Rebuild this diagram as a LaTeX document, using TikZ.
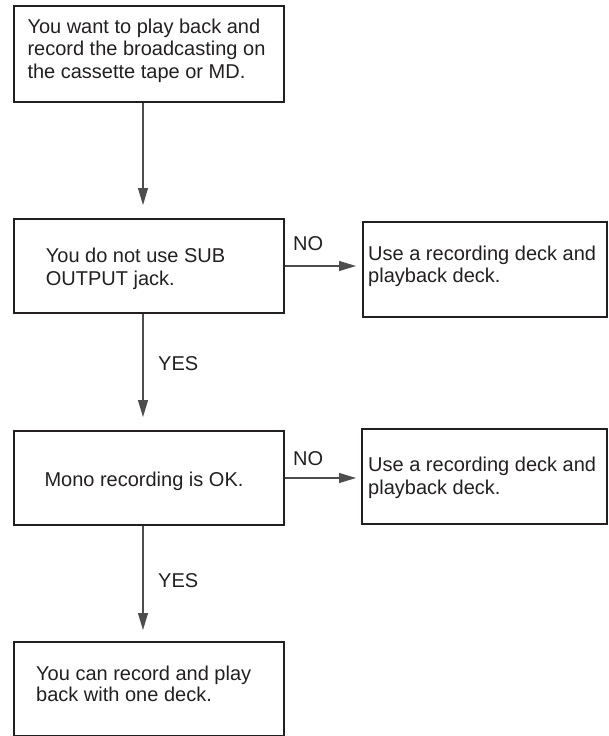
\documentclass[tikz,border=0pt]{standalone}
\usepackage{fontspec}
\setmainfont{Liberation Sans}
\usetikzlibrary{arrows.meta}
\definecolor{ink}{HTML}{231F20}
\definecolor{wire}{HTML}{4D4D4D}
\newcommand{\fs}{\fontsize{20pt}{22.6pt}\selectfont}
\newcommand{\tb}[2][260pt]{\parbox[t]{#1}{\raggedright\fs #2}}
\begin{document}
\begin{tikzpicture}[x=1pt,y=-1pt,
  box/.style={draw=ink,line width=2pt,rectangle,inner sep=0pt,anchor=north west},
  txt/.style={anchor=base west,inner sep=0pt,text=ink},
  lbl/.style={anchor=base west,inner sep=0pt,text=ink,font=\fs},
  arr/.style={draw=wire,line width=1.1pt,-{Triangle[length=17pt,width=10pt]}}]
\useasboundingbox (0,0) rectangle (608,736);
% boxes
\node[box,minimum width=270.3pt,minimum height=95.5pt] (b1) at (12.7,5) {};
\node[box,minimum width=270.3pt,minimum height=94pt] (b2) at (12.7,218) {};
\node[box,minimum width=243.5pt,minimum height=94.5pt] (r2) at (362,221) {};
\node[box,minimum width=270.3pt,minimum height=94pt] (b3) at (12.7,430) {};
\node[box,minimum width=244.5pt,minimum height=95pt] (r3) at (361,427.7) {};
\node[box,minimum width=270.3pt,minimum height=94pt] (b4) at (12.7,641) {};
% texts
\node[txt] (t1) at (27.3,33.3) {\tb{You want to play back and\\record the broadcasting on\\the cassette tape or MD.}};
\node[txt] (t2) at (45.7,262.7) {\tb{You do not use SUB\\OUTPUT jack.}};
\node[txt] (tr2) at (368,260) {\tb[236pt]{Use a recording deck and\\playback deck.}};
\node[txt] (t3) at (44.3,486) {\tb{Mono recording is OK.}};
\node[txt] (tr3) at (368,471.7) {\tb[236pt]{Use a recording deck and\\playback deck.}};
\node[txt] (t4) at (36,680) {\parbox[t]{240pt}{\raggedright\fontsize{20pt}{21.8pt}\selectfont You can record and play\\back with one deck.}};
% connectors
\draw[arr,shorten >=13pt] ([xshift=130.3pt]b1.south west) -- ([xshift=130.3pt]b2.north west);
\draw[arr,shorten >=13pt] ([xshift=130.3pt]b2.south west) -- ([xshift=130.3pt]b3.north west);
\draw[arr,shorten >=11pt] ([xshift=130.3pt]b3.south west) -- ([xshift=130.3pt]b4.north west);
\draw[arr,shorten >=6pt] (b2.east) -- (b2.east -| r2.west);
\draw[arr,shorten >=5pt] (b3.east) -- (b3.east -| r3.west);
% labels
\node[lbl] (no1) at (293,250) {NO};
\node[lbl] (no2) at (293,465) {NO};
\node[lbl] (yes1) at (158,370.5) {YES};
\node[lbl] (yes2) at (158,587) {YES};
\end{tikzpicture}
\end{document}
